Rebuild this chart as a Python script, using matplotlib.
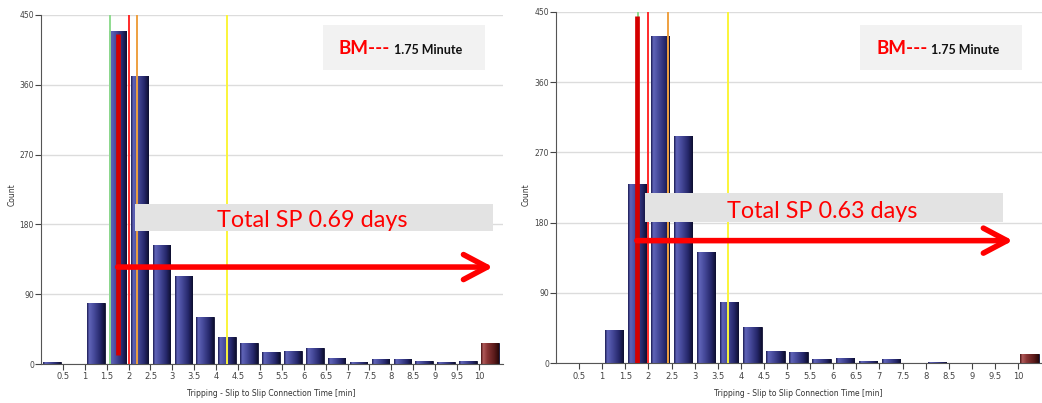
import numpy as np
import matplotlib
matplotlib.use("Agg")
import matplotlib.pyplot as plt
from matplotlib.colors import LinearSegmentedColormap
from matplotlib.patches import Rectangle

# Histogram data (bins of 0.5 min, last bin = overflow > 10 min)
bin_left = [0, 0.5, 1, 1.5, 2, 2.5, 3, 3.5, 4, 4.5, 5,
            5.5, 6, 6.5, 7, 7.5, 8, 8.5, 9, 9.5, 10]
before_counts = [2, 0, 79, 429, 371, 153, 114, 61, 35, 27, 16,
                 17, 21, 8, 2, 6, 7, 4, 3, 4, 27]
after_counts = [0, 0, 43, 230, 419, 291, 142, 78, 47, 16, 15,
                6, 7, 3, 5, 0, 2, 1, 0, 0, 12]

# statistic marker lines (min)
before_lines = [1.58, 2.01, 2.2, 4.25]
after_lines = [1.77, 2.0, 2.42, 3.72]
line_colors = ["#8fdc8f", "#ff2a2a", "#eea040", "#fbf53a"]

bm_minutes = 1.75
total_sp = ["Total SP 0.69 days", "Total SP 0.63 days"]

y_ticks = [0, 90, 180, 270, 360, 450]
x_ticks = [0.5, 1, 1.5, 2, 2.5, 3, 3.5, 4, 4.5, 5,
           5.5, 6, 6.5, 7, 7.5, 8, 8.5, 9, 9.5, 10]
x_label = "Tripping - Slip to Slip Connection Time [min]"

W, H = 1042, 403
navy = LinearSegmentedColormap.from_list(
    "navy", [(0, "#1c1d55"), (0.12, "#6064b8"), (0.35, "#4a4ea0"),
             (0.75, "#25276a"), (1, "#0e0f30")])
maroon = LinearSegmentedColormap.from_list(
    "maroon", [(0, "#4a1515"), (0.12, "#b05a5a"), (0.35, "#8a3535"),
               (0.75, "#5a1a1a"), (1, "#2a0808")])

fig = plt.figure(figsize=(W / 100, H / 100), dpi=100)
fig.patch.set_facecolor("white")

small_font = ["Liberation Sans Narrow", "DejaVu Sans"]


def px_rect(x0, y0, x1, y1, color):
    fig.add_artist(Rectangle((x0 / W, 1 - y1 / H), (x1 - x0) / W, (y1 - y0) / H,
                             transform=fig.transFigure, facecolor=color,
                             edgecolor="none", zorder=5))


def draw_hist(ax, counts, lines, xmax, arrow_y, arrow_end, bm_top, bm_bottom):
    centers = np.array(bin_left) + 0.25
    bars = ax.bar(centers, counts, width=0.40, facecolor="#2a2c70",
                  edgecolor="#101030", linewidth=0.6, zorder=2)
    grad = np.linspace(0, 1, 64).reshape(1, -1)
    for i, rect in enumerate(bars):
        h = counts[i]
        if h <= 0:
            continue
        cm = maroon if i == len(counts) - 1 else navy
        x0 = rect.get_x()
        im = ax.imshow(grad, extent=[x0, x0 + rect.get_width(), 0, h],
                       aspect="auto", cmap=cm, zorder=2.1)
        im.set_clip_path(rect)

    for xv, c in zip(lines, line_colors):
        ax.axvline(xv, color=c, lw=1.4, zorder=3)

    ax.set_xlim(0, xmax)
    ax.set_ylim(0, 450)
    ax.set_yticks(y_ticks)
    ax.set_yticklabels([str(v) for v in y_ticks], family=small_font)
    ax.set_xticks(x_ticks)
    ax.set_xticklabels(["%g" % v for v in x_ticks], family=small_font)
    ax.tick_params(axis="y", labelsize=5.5, colors="#444444", length=4, pad=1)
    ax.tick_params(axis="x", labelsize=6, colors="#444444", length=4, pad=2)
    ax.grid(axis="y", color="#dcdcdc", lw=1)
    ax.set_axisbelow(True)
    for s in ["top", "right"]:
        ax.spines[s].set_visible(False)
    for s in ["left", "bottom"]:
        ax.spines[s].set_color("#555555")

    # benchmark marker and arrow
    ax.plot([bm_minutes, bm_minutes], [bm_bottom, bm_top], color="#d40000",
            lw=3.4, solid_capstyle="butt", zorder=4)
    ax.annotate("", xy=(arrow_end, arrow_y), xytext=(bm_minutes, arrow_y),
                arrowprops=dict(arrowstyle="->,head_length=1.7,head_width=0.9",
                                color="#ff0000", lw=4, shrinkA=0, shrinkB=0),
                annotation_clip=False, zorder=4)


ax1 = fig.add_axes([41 / W, 39 / H, 462 / W, 349 / H])
draw_hist(ax1, before_counts, before_lines, 462 / 43.8, 125, 10.32, 426, 12)

ax2 = fig.add_axes([556 / W, 39.7 / H, 486 / W, 351.6 / H])
draw_hist(ax2, after_counts, after_lines, 486 / 46.2, 157, 9.89, 445, 0)

# axis titles
for x in [12, 526]:
    fig.text(x / W, 1 - 195 / H, "Count", rotation=90, fontsize=5.5,
             ha="center", va="center", family=small_font, color="#333333")
for x in [271, 798]:
    fig.text(x / W, 1 - 393 / H, x_label, fontsize=5.5, ha="center",
             va="center", family=small_font, color="#333333")

# BM boxes
for x0, x1 in [(323, 485), (860, 1022)]:
    px_rect(x0, 25, x1, 70, "#f2f2f2")
    fig.text((x0 + 16) / W, 1 - 54 / H, "BM---", color="#ff0000",
             fontsize=13.5, fontweight="bold", family="Lato", zorder=6)
    fig.text((x0 + 71) / W, 1 - 54 / H, "1.75 Minute", color="#111111",
             fontsize=9, fontweight="bold", family="Lato", zorder=6)

# Total SP boxes
for (x0, y0, x1, y1, tx, ty), label in zip(
        [(135, 204, 493, 231, 217, 227), (645, 193, 1003, 222, 727, 218)],
        total_sp):
    px_rect(x0, y0, x1, y1, "#e3e3e3")
    fig.text(tx / W, 1 - ty / H, label, color="#ff0000", fontsize=16.8,
             family="Lato", zorder=6)

plt.savefig("out.png", dpi=100)
